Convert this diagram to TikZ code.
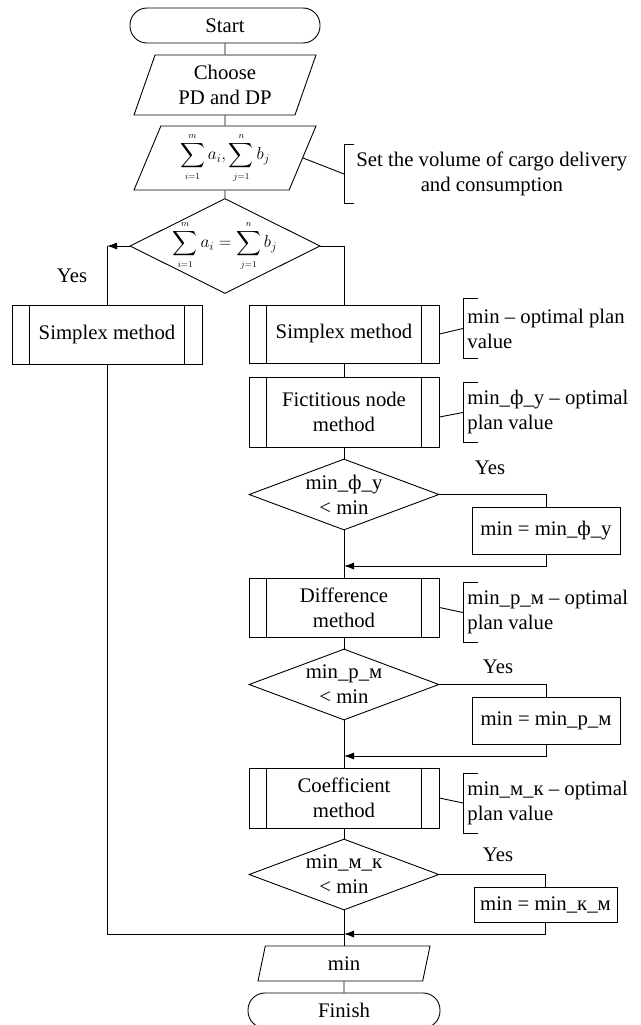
\documentclass[tikz,border=0pt]{standalone}
\usepackage{fontspec}
\setmainfont{Liberation Serif}
\usepackage{amsmath}
\usetikzlibrary{shapes.geometric,arrows.meta}

\newcommand{\sumlim}[1]{{\scriptscriptstyle #1}}
\newcommand{\sumsize}{\fontsize{18}{22}\selectfont}

\begin{document}
\begin{tikzpicture}[x=1pt, y=-1pt, line width=0.9pt,
  every node/.style={font=\huge, inner sep=0pt, align=center},
  term/.style={draw, rounded corners=17pt, minimum width=190pt, minimum height=35pt},
  io/.style={draw, trapezium, trapezium left angle=62, trapezium right angle=118,
    trapezium stretches body, minimum width=182pt, minimum height=60pt},
  proc/.style={draw, rectangle, minimum width=190pt},
  dec/.style={draw, diamond, minimum width=190pt, minimum height=71pt},
  act/.style={draw, rectangle, minimum width=148pt, minimum height=47pt},
  note/.style={anchor=west, align=left, inner xsep=4pt, minimum height=59pt},
  arr/.style={-{Latex[length=10pt,width=7pt]}}]
\useasboundingbox (0,0) rectangle (640,1025);

% Blocks
\node[term] (start) at (225,25.5) {Start};
\node[io] (choose) at (225,85) {Choose\\PD and DP};
\node[io, minimum height=64pt] (sums) at (225,158)
  {\sumsize$\displaystyle\sum_{\sumlim{i=1}}^{\sumlim{m}} a_i, \sum_{\sumlim{j=1}}^{\sumlim{n}} b_j$};
\node[dec, minimum height=95pt,
  label={center:\sumsize$\displaystyle\sum_{\sumlim{i=1}}^{\sumlim{m}} a_i = \sum_{\sumlim{j=1}}^{\sumlim{n}} b_j$}] (d1) at (225,246) {};
\node[proc, minimum height=59pt] (sl) at (107,334.5) {Simplex method};
\node[proc, minimum height=58pt] (sr) at (344,334) {Simplex method};
\node[proc, minimum height=70pt] (fn) at (344,412) {Fictitious node\\method};
\node[dec, label={center:min\_ф\_у\\< min}] (d2) at (344,494.5) {};
\node[act] (b2) at (546,530.5) {min = min\_ф\_у};
\node[proc, minimum height=59pt] (dm) at (344,607.5) {Difference\\method};
\node[dec, label={center:min\_р\_м\\< min}] (d3) at (344,684.5) {};
\node[act] (b3) at (546,720.5) {min = min\_р\_м};
\node[proc, minimum height=60pt] (cm) at (344,798) {Coefficient\\method};
\node[dec, label={center:min\_м\_к\\< min}] (d4) at (344,874.5) {};
\node[act, minimum width=143pt, minimum height=35pt] (b4) at (545.5,904.5) {min = min\_к\_м};
\node[io, minimum width=172pt, minimum height=35pt] (out) at (344,963.5) {min};
\node[term, minimum width=192pt] (fin) at (344,1010.5) {Finish};

% Side lines of the predefined processes
\foreach \n in {sl,sr,fn,dm,cm} {
  \draw ([xshift=18pt]\n.north west) -- ([xshift=18pt]\n.south west);
  \draw ([xshift=-18pt]\n.north east) -- ([xshift=-18pt]\n.south east);
}

% Comments
\node[note, align=center, inner xsep=12pt, minimum height=58pt] (ann0) at (344,174)
  {Set the volume of cargo delivery\\and consumption};
\node[note] (a1) at (463,328.5) {min -- optimal plan\\value};
\node[note] (a2) at (463,412.5) {min\_ф\_у -- optimal\\plan value};
\node[note] (a3) at (463,612.5) {min\_р\_м -- optimal\\plan value};
\node[note] (a4) at (463,803) {min\_м\_к -- optimal\\plan value};
\draw ([xshift=10pt]ann0.north west) -- (ann0.north west) -- (ann0.south west) -- ([xshift=10pt]ann0.south west);
\foreach \n in {a1,a2,a3,a4}
  \draw ([xshift=15pt]\n.north west) -- (\n.north west) -- (\n.south west) -- ([xshift=15pt]\n.south west);

% Yes labels
\node (yes1) at (72,276) {Yes};
\node (yes2) at (490,468) {Yes};
\node (yes3) at (498,667) {Yes};
\node (yes4) at (498,855) {Yes};

% Joins
\coordinate (j2) at (344,566);
\coordinate (j3) at (344,756);
\coordinate (j4) at (344,934);

%Lines
\draw (start) -- (choose);
\draw (choose) -- (sums);
\draw (sums) -- (d1);
\draw (sums.east) -- (ann0.west);
\draw[arr] (d1.west) -- (sl.north |- d1.west);
\draw (sl.north |- d1.west) -- (sl.north);
\draw (d1.east) -| (sr.north);
\draw (sr) -- (fn);
\draw (sr.east) -- (a1.west);
\draw (fn) -- (d2);
\draw ([yshift=-5pt]fn.east) -- (a2.west);
\draw (d2.east) -| (b2.north);
\draw[arr] (b2.south) |- (j2);
\draw (d2) -- (dm);
\draw (dm.east) -- (a3.west);
\draw (d3.east) -| (b3.north);
\draw[arr] (b3.south) |- (j3);
\draw (dm) -- (d3);
\draw (d3) -- (cm);
\draw (cm.east) -- (a4.west);
\draw (cm) -- (d4);
\draw (d4.east) -| (b4.north);
\draw[arr] (b4.south) |- (j4);
\draw (sl.south) |- (j4);
\draw (d4) -- (out);
\draw (out) -- (fin);
\end{tikzpicture}
\end{document}
